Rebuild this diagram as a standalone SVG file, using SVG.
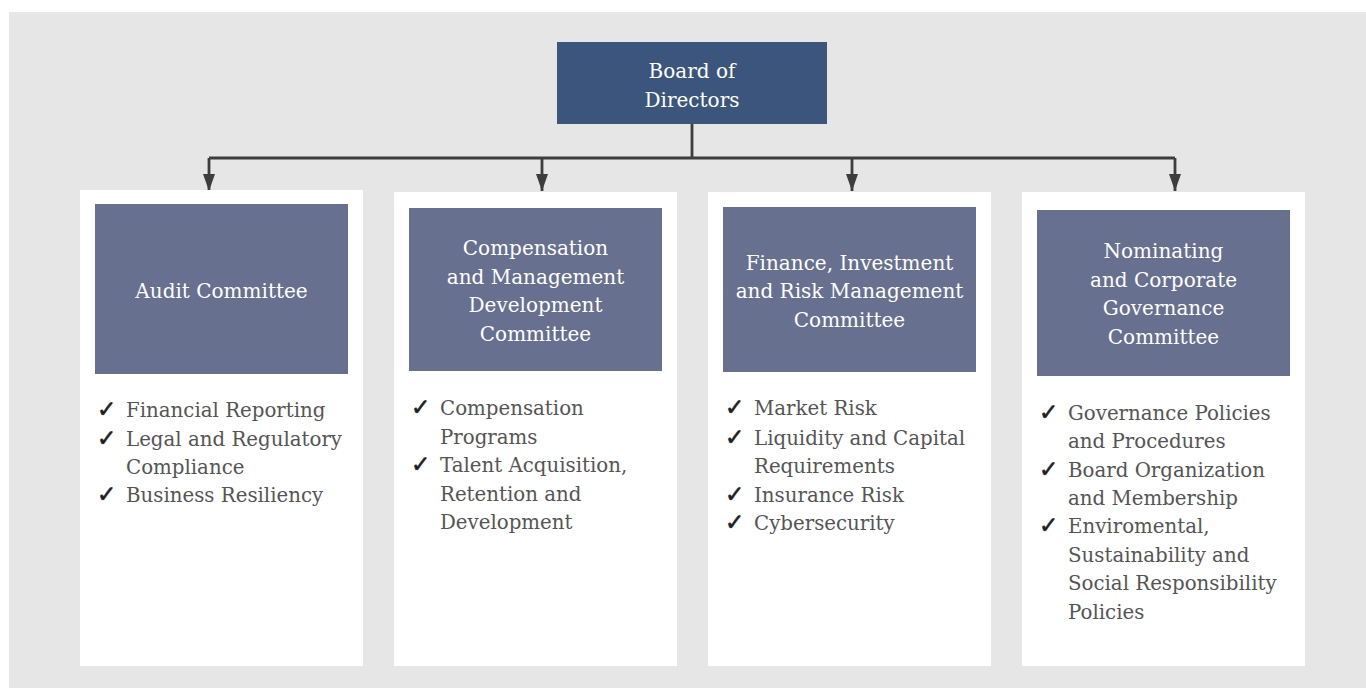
<svg xmlns="http://www.w3.org/2000/svg" width="1366" height="688" viewBox="0 0 1366 688">
  <defs>
    <!-- arrowhead drawn along +x so orient="auto" turns it to follow the line -->
    <marker id="arrow" viewBox="0 0 17 12" refX="17" refY="6" markerWidth="17" markerHeight="12" markerUnits="userSpaceOnUse" orient="auto">
      <path d="M0,0 L17,6 L0,12 Z" fill="#3d3d3d"/>
    </marker>
    <style>
      .panel { fill: #e6e6e6; }
      .card { fill: #ffffff; }
      .board { fill: #3c557d; }
      .head { fill: #67708f; }
      .title { font-family: "DejaVu Serif", "Liberation Serif", serif; font-size: 20px; fill: #ffffff; text-anchor: middle; }
      .item { font-family: "DejaVu Serif", "Liberation Serif", serif; font-size: 19.8px; fill: #555555; }
      .tick { font-family: "DejaVu Sans", sans-serif; font-size: 23px; fill: #1e1e1e; stroke: #1e1e1e; stroke-width: 0.6; }
      .wire { fill: none; stroke: #3d3d3d; stroke-width: 2.8; }
    </style>
  </defs>

  <!-- background -->
  <rect x="0" y="0" width="1366" height="688" fill="#ffffff"/>
  <rect class="panel" x="9" y="12" width="1357" height="676"/>

  <!-- connectors -->
  <g id="connectors">
    <path class="wire" d="M692,124 V158"/>
    <path class="wire" d="M209,158 H1175"/>
    <path class="wire" d="M209,158 V191" marker-end="url(#arrow)"/>
    <path class="wire" d="M542,158 V191" marker-end="url(#arrow)"/>
    <path class="wire" d="M852,158 V191" marker-end="url(#arrow)"/>
    <path class="wire" d="M1175,158 V191" marker-end="url(#arrow)"/>
  </g>

  <!-- board -->
  <g id="board">
    <rect class="board" x="557" y="42" width="270" height="82"/>
    <text class="title" x="692" y="78">Board of</text>
    <text class="title" x="692" y="107">Directors</text>
  </g>

  <!-- audit -->
  <g id="audit">
    <rect class="card" x="80" y="190" width="283" height="476"/>
    <rect class="head" x="95" y="204" width="253" height="170"/>
    <text class="title" x="221.5" y="298">Audit Committee</text>
    <text class="tick" x="97" y="417">✓</text>
    <text class="item" x="126" y="417">Financial Reporting</text>
    <text class="tick" x="97" y="445.5">✓</text>
    <text class="item" x="126" y="445.5">Legal and Regulatory</text>
    <text class="item" x="126" y="474">Compliance</text>
    <text class="tick" x="97" y="502">✓</text>
    <text class="item" x="126" y="502">Business Resiliency</text>
  </g>

  <!-- compensation -->
  <g id="compensation">
    <rect class="card" x="394" y="192" width="283" height="474"/>
    <rect class="head" x="409" y="208" width="253" height="163"/>
    <text class="title" x="535.5" y="255">Compensation</text>
    <text class="title" x="535.5" y="284">and Management</text>
    <text class="title" x="535.5" y="312">Development</text>
    <text class="title" x="535.5" y="341">Committee</text>
    <text class="tick" x="411" y="415">✓</text>
    <text class="item" x="440" y="415">Compensation</text>
    <text class="item" x="440" y="444">Programs</text>
    <text class="tick" x="411" y="472">✓</text>
    <text class="item" x="440" y="472">Talent Acquisition,</text>
    <text class="item" x="440" y="501">Retention and</text>
    <text class="item" x="440" y="529">Development</text>
  </g>

  <!-- finance -->
  <g id="finance">
    <rect class="card" x="708" y="192" width="283" height="474"/>
    <rect class="head" x="723" y="207" width="253" height="165"/>
    <text class="title" x="849.5" y="270">Finance, Investment</text>
    <text class="title" x="849.5" y="298">and Risk Management</text>
    <text class="title" x="849.5" y="327">Committee</text>
    <text class="tick" x="725" y="415">✓</text>
    <text class="item" x="754" y="415">Market Risk</text>
    <text class="tick" x="725" y="445">✓</text>
    <text class="item" x="754" y="445">Liquidity and Capital</text>
    <text class="item" x="754" y="473">Requirements</text>
    <text class="tick" x="725" y="501.5">✓</text>
    <text class="item" x="754" y="501.5">Insurance Risk</text>
    <text class="tick" x="725" y="530">✓</text>
    <text class="item" x="754" y="530">Cybersecurity</text>
  </g>

  <!-- nominating -->
  <g id="nominating">
    <rect class="card" x="1022" y="192" width="283" height="474"/>
    <rect class="head" x="1037" y="210" width="253" height="166"/>
    <text class="title" x="1163.5" y="258">Nominating</text>
    <text class="title" x="1163.5" y="287">and Corporate</text>
    <text class="title" x="1163.5" y="315">Governance</text>
    <text class="title" x="1163.5" y="344">Committee</text>
    <text class="tick" x="1039" y="420">✓</text>
    <text class="item" x="1068" y="420">Governance Policies</text>
    <text class="item" x="1068" y="448">and Procedures</text>
    <text class="tick" x="1039" y="477">✓</text>
    <text class="item" x="1068" y="477">Board Organization</text>
    <text class="item" x="1068" y="505">and Membership</text>
    <text class="tick" x="1039" y="533">✓</text>
    <text class="item" x="1068" y="533">Enviromental,</text>
    <text class="item" x="1068" y="562">Sustainability and</text>
    <text class="item" x="1068" y="590">Social Responsibility</text>
    <text class="item" x="1068" y="619">Policies</text>
  </g>
</svg>
